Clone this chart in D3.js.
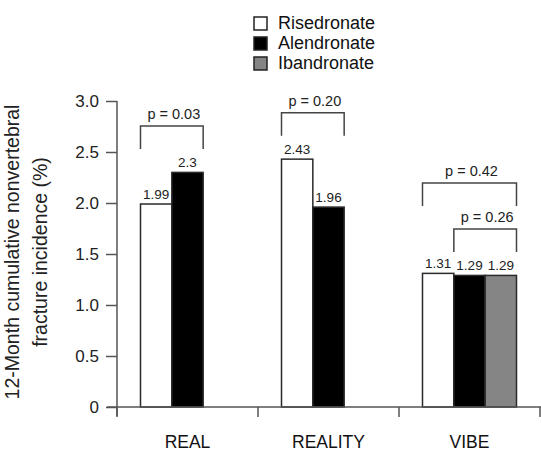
<!DOCTYPE html>
<html><head><meta charset="utf-8">
<script src="https://cdn.jsdelivr.net/npm/d3@7"></script>
<style>body{margin:0;background:#fff}svg{display:block;font-family:"Liberation Sans",Arial,sans-serif}</style>
</head><body><svg id="c" width="541" height="451"></svg>
<script>
const categories = ["REAL", "REALITY", "VIBE"];
const seriesNames = ["Risedronate", "Alendronate", "Ibandronate"];
const risedronate = [1.99, 2.43, 1.31];
const alendronate = [2.3, 1.96, 1.29];
const ibandronate = [null, null, 1.29];
const yTicks = [0, 0.5, 1.0, 1.5, 2.0, 2.5, 3.0];
const yTickLabels = ["0", "0.5", "1.0", "1.5", "2.0", "2.5", "3.0"];
// comparisons: category, from series, to series, p label, stacking level
const compCategory = ["REAL", "REALITY", "VIBE", "VIBE"];
const compFrom = [0, 0, 1, 0];
const compTo = [1, 1, 2, 2];
const compLabel = ["p = 0.03", "p = 0.20", "p = 0.26", "p = 0.42"];
const compLevel = [0, 0, 0, 1];

const fills = ["#ffffff", "#000000", "#858585"];
const seriesVals = [risedronate, alendronate, ibandronate];

const svg = d3.select("#c");
const axisColor = "#555";
const y = d3.scaleLinear().domain([0, 3]).range([407, 101]);
const x0 = d3.scaleBand().domain(categories).range([117, 540]);
const groupW = 94;
const x1 = d3.scaleBand().domain(d3.range(seriesNames.length)).range([0, groupW]);
const gx = c => x0(c) + (x0.bandwidth() - groupW) / 2;

// bars
const bars = [];
categories.forEach((c, ci) => seriesVals.forEach((s, si) => {
  if (s[ci] != null) bars.push({c, si, v: s[ci]});
}));
svg.append("g").selectAll("rect").data(bars).join("rect")
  .attr("x", d => gx(d.c) + x1(d.si))
  .attr("y", d => y(d.v))
  .attr("width", x1.bandwidth())
  .attr("height", d => y(0) - y(d.v))
  .attr("fill", d => fills[d.si])
  .attr("stroke", "#2a2a2a").attr("stroke-width", 1.5);

svg.append("g").selectAll("text").data(bars).join("text")
  .attr("x", d => gx(d.c) + x1(d.si) + x1.bandwidth() / 2)
  .attr("y", d => y(d.v) - 5)
  .attr("text-anchor", "middle").attr("font-size", 13.5).attr("fill", "#222")
  .text(d => String(d.v));

// y axis
const ya = svg.append("g").attr("transform", "translate(117,0)")
  .call(d3.axisLeft(y).tickValues(yTicks).tickFormat((d, i) => yTickLabels[i]).tickSize(11).tickPadding(7));
ya.select(".domain").attr("d", `M0,${y(3)}V416`);
ya.selectAll("line").attr("stroke", axisColor).attr("stroke-width", 1.5);
ya.select(".domain").attr("stroke", axisColor).attr("stroke-width", 1.5);
ya.selectAll("text").attr("font-size", 17).attr("fill", "#222").attr("font-family", "Liberation Sans, Arial, sans-serif");

// x axis
const xa = svg.append("g").attr("transform", `translate(0,${y(0)})`);
xa.append("line").attr("x1", 107).attr("x2", 541).attr("stroke", axisColor).attr("stroke-width", 1.5);
const bounds = categories.map(c => x0(c)).concat([x0(categories[categories.length - 1]) + x0.bandwidth()]);
xa.selectAll("line.t").data(bounds).join("line").attr("class", "t")
  .attr("x1", d => d).attr("x2", d => d).attr("y1", 0).attr("y2", 10)
  .attr("stroke", axisColor).attr("stroke-width", 1.5);
xa.selectAll("text").data(categories).join("text")
  .attr("x", d => gx(d) + groupW / 2).attr("y", 41)
  .attr("text-anchor", "middle").attr("font-size", 17.5).attr("fill", "#111").text(d => d);

// y title
const yt = svg.append("text").attr("transform", "translate(0,252) rotate(-90)")
  .attr("text-anchor", "middle").attr("font-size", 19.5).attr("fill", "#222");
yt.append("tspan").attr("x", 0).attr("y", 19).text("12-Month cumulative nonvertebral");
yt.append("tspan").attr("x", 0).attr("y", 47).text("fracture incidence (%)");

// brackets
compLabel.forEach((lab, i) => {
  const c = compCategory[i];
  const ci = categories.indexOf(c);
  const vals = seriesVals.slice(compFrom[i], compTo[i] + 1).map(s => s[ci]);
  const level = d3.max(vals) + 0.455 + compLevel[i] * 0.43;
  const xl = gx(c) + x1(compFrom[i]);
  const xr = gx(c) + x1(compTo[i]) + x1.bandwidth();
  const yt0 = y(level);
  svg.append("path").attr("d", `M${xl},${yt0 + 23}V${yt0}H${xr}V${yt0 + 23}`)
    .attr("fill", "none").attr("stroke", "#444").attr("stroke-width", 1.5);
  svg.append("text").attr("x", (xl + xr) / 2 + 2).attr("y", yt0 - 7)
    .attr("text-anchor", "middle").attr("font-size", 14.5).attr("fill", "#222").text(lab);
});

// legend
const lg = svg.append("g").attr("transform", "translate(254,17)");
const li = lg.selectAll("g").data(seriesNames).join("g")
  .attr("transform", (d, i) => `translate(0,${i * 20})`);
li.append("rect").attr("width", 13).attr("height", 13)
  .attr("fill", (d, i) => fills[i]).attr("stroke", "#222").attr("stroke-width", 1.5);
li.append("text").attr("x", 24).attr("y", 12).attr("font-size", 18).attr("fill", "#111").text(d => d);
</script></body></html>
